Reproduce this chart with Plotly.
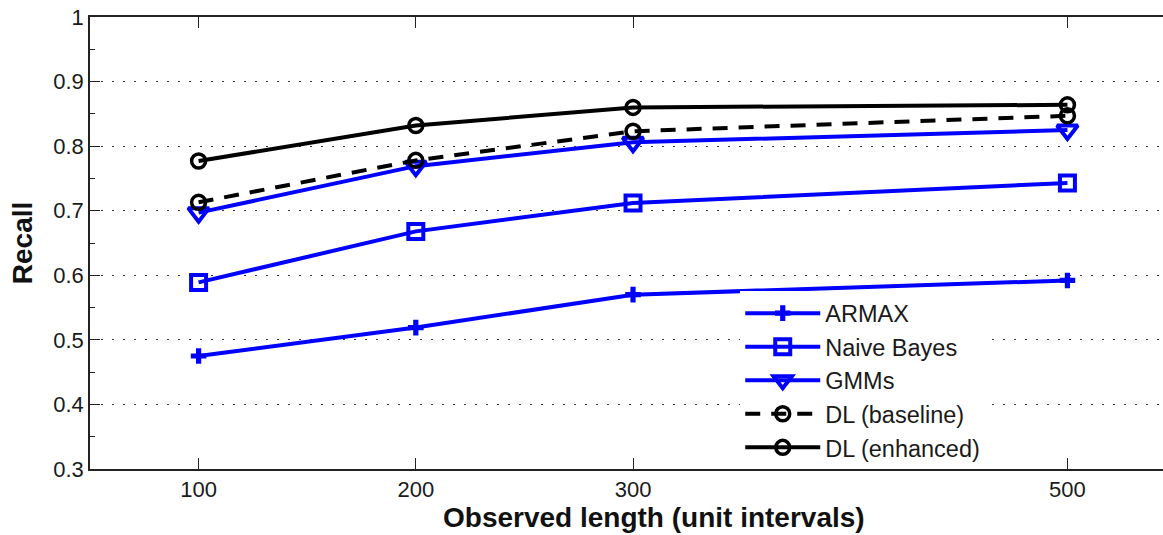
import plotly.graph_objects as go

lengths = [100, 200, 300, 500]
armax = [0.475, 0.519, 0.570, 0.592]
naive_bayes = [0.589, 0.668, 0.712, 0.743]
gmms = [0.697, 0.769, 0.806, 0.825]
dl_baseline = [0.713, 0.778, 0.823, 0.847]
dl_enhanced = [0.777, 0.832, 0.860, 0.864]
y_ticks = [0.3, 0.4, 0.5, 0.6, 0.7, 0.8, 0.9, 1.0]
y_tick_labels = ["0.3", "0.4", "0.5", "0.6", "0.7", "0.8", "0.9", "1"]

BLUE = "#0000ff"
BLACK = "#000000"

fig = go.Figure()
fig.add_trace(go.Scatter(x=lengths, y=armax, name="ARMAX", mode="lines+markers",
                         line=dict(color=BLUE, width=4),
                         marker=dict(symbol="cross", size=13, color=BLUE)))
fig.add_trace(go.Scatter(x=lengths, y=naive_bayes, name="Naive Bayes", mode="lines+markers",
                         line=dict(color=BLUE, width=4),
                         marker=dict(symbol="square-open", size=15, color=BLUE, line=dict(width=4, color=BLUE))))
fig.add_trace(go.Scatter(x=lengths, y=gmms, name="GMMs", mode="lines+markers",
                         line=dict(color=BLUE, width=4),
                         marker=dict(symbol="triangle-down-open", size=18, color=BLUE, line=dict(width=4, color=BLUE))))
fig.add_trace(go.Scatter(x=lengths, y=dl_baseline, name="DL (baseline)", mode="lines+markers",
                         line=dict(color=BLACK, width=4, dash="15px,11px"),
                         marker=dict(symbol="circle-open", size=14, color=BLACK, line=dict(width=3.5, color=BLACK))))
fig.add_trace(go.Scatter(x=lengths, y=dl_enhanced, name="DL (enhanced)", mode="lines+markers",
                         line=dict(color=BLACK, width=4),
                         marker=dict(symbol="circle-open", size=14, color=BLACK, line=dict(width=3.5, color=BLACK))))

font_family = "Liberation Sans, Arial, sans-serif"

fig.update_layout(
    width=1163, height=535,
    margin=dict(l=90, r=0, t=17, b=66),
    plot_bgcolor="white", paper_bgcolor="white",
    font=dict(family=font_family, size=20, color="#1a1a1a"),
    showlegend=True,
    legend=dict(x=0.606, y=0.393, xanchor="left", yanchor="top",
                bgcolor="white", borderwidth=0, itemwidth=75,
                font=dict(size=23.5, color="#1a1a1a"), tracegroupgap=0),
    xaxis=dict(range=[50, 544], tickvals=lengths, ticktext=[str(v) for v in lengths],
               ticks="inside", ticklen=11, tickwidth=1.2, tickcolor="#222",
               showline=True, linecolor="#222", linewidth=1.5, mirror="ticks",
               showgrid=False, zeroline=False, automargin=False,
               tickfont=dict(size=22, color="#1a1a1a")),
    yaxis=dict(range=[0.3, 1.0], tickvals=y_ticks, ticktext=y_tick_labels,
               ticks="inside", ticklen=10, tickwidth=1.2, tickcolor="#222",
               showline=True, linecolor="#222", linewidth=1.5, mirror=False,
               showgrid=True, gridcolor="#333", gridwidth=1, griddash="2px,9px",
               zeroline=False, automargin=False,
               minor=dict(dtick=0.05, ticks="inside", ticklen=5, tickcolor="#222", showgrid=False),
               tickfont=dict(size=22, color="#1a1a1a"),
               title=dict(text="<b>Recall</b>", font=dict(size=28, color="#111"), standoff=12)),
)

fig.add_annotation(text="<b>Observed length (unit intervals)</b>", xref="paper", yref="paper",
                   x=(654 - 90) / 1073, y=-(517 - 469) / 452, xanchor="center", yanchor="middle",
                   showarrow=False, font=dict(size=28, color="#111", family=font_family))

# remove the browser's default 8px body margin so the figure fills the window exactly
fig.write_html("out.html", config={"displayModeBar": False},
               post_script="document.body.style.margin='0';document.body.style.overflow='hidden';")
